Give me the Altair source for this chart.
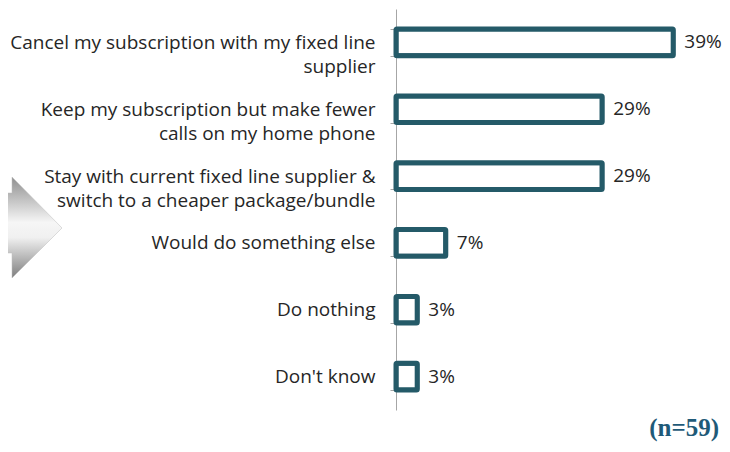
import altair as alt
import pandas as pd

categories = [
    "Cancel my subscription with my fixed line|supplier",
    "Keep my subscription but make fewer|calls on my home phone",
    "Stay with current fixed line supplier &|switch to a cheaper package/bundle",
    "Would do something else",
    "Do nothing",
    "Don't know",
]
values = [39, 29, 29, 7, 3, 3]
labels = ["39%", "29%", "29%", "7%", "3%", "3%"]

df = pd.DataFrame({"cat": categories, "val": values, "lab": labels})

FONT = "Open Sans"
BAR = "#245a68"

y_enc = alt.Y(
    "cat:N",
    sort=categories,
    title=None,
    scale=alt.Scale(paddingInner=0.6, paddingOuter=0.3),
    axis=alt.Axis(
        labelExpr="split(datum.label, '|')",
        labelFont=FONT,
        labelFontSize=19,
        labelColor="#262626",
        labelLineHeight=24,
        labelAlign="right",
        labelPadding=15,
        labelLimit=420,
        tickSize=6,
        tickColor="#a6a6a6",
        domainColor="#a6a6a6",
        tickBand="extent",
        grid=False,
    ),
)
x_enc = alt.X("val:Q", scale=alt.Scale(domain=[0, 45]), axis=None)

bars = alt.Chart(df).mark_bar(
    fill="white", stroke=BAR, strokeWidth=5, cornerRadius=1
).encode(x=x_enc, y=y_enc)

text = alt.Chart(df).mark_text(
    align="left", baseline="middle", dx=11, font=FONT, fontSize=19, color="#262626"
).encode(x=x_enc, y=y_enc, text="lab:N")

one = pd.DataFrame({"a": [1]})

arrow_path = "M-35,-35 L-23,-35 L-23,-51 L27,0 L-23,50 L-23,25 L-35,25 Z"
arrow = alt.Chart(one).mark_point(
    shape=arrow_path,
    filled=True,
    size=4,
    opacity=1,
    stroke="#bdbdbd",
    strokeWidth=0.5,
    fill=alt.Gradient(
        gradient="linear",
        stops=[
            alt.GradientStop(color="#8f8f8f", offset=0),
            alt.GradientStop(color="#f6f6f6", offset=0.45),
            alt.GradientStop(color="#f0f0f0", offset=0.6),
            alt.GradientStop(color="#7e7e7e", offset=1),
        ],
        x1=0, x2=0, y1=0, y2=1,
    ),
).encode(x=alt.value(-361), y=alt.value(219))

note = alt.Chart(pd.DataFrame({"t": ["(n=59)"]})).mark_text(
    align="right", baseline="alphabetic", font="Liberation Serif",
    fontSize=25, fontWeight="bold", color="#1f5a78"
).encode(x=alt.value(323), y=alt.value(427), text="t:N")

chart = (
    alt.layer(bars, text, arrow, note)
    .properties(
        width=320,
        height=401,
        padding={"left": 388, "top": 1, "right": 6, "bottom": 34},
        autosize=alt.AutoSizeParams(type="none"),
    )
    .configure_view(stroke=None)
)

chart.save("out.html", embed_options={"renderer": "svg", "actions": False})
